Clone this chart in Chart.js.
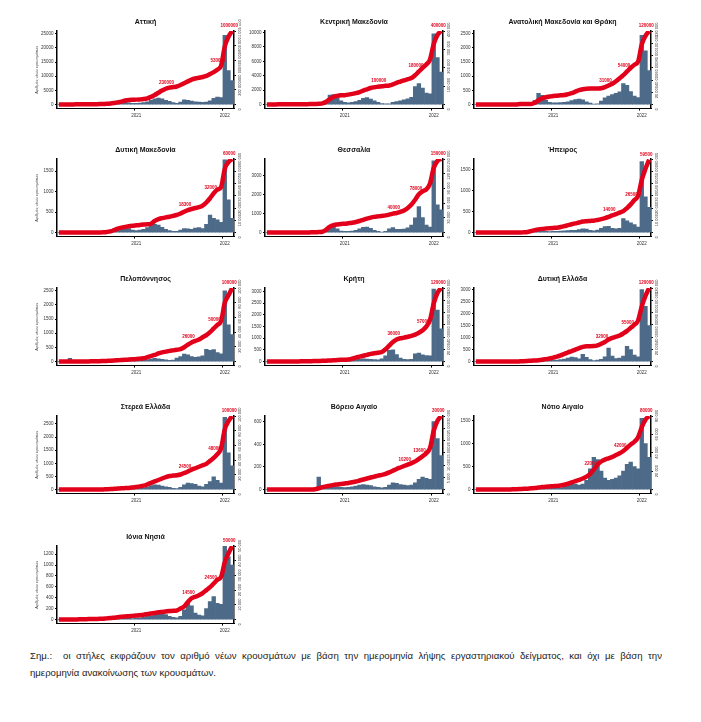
<!DOCTYPE html>
<html lang="el">
<head>
<meta charset="utf-8">
<title>Νέα κρούσματα ανά περιφέρεια</title>
<script src="https://cdn.jsdelivr.net/npm/chart.js@4.4.1/dist/chart.umd.min.js"></script>
<style>
  html, body { margin: 0; padding: 0; background: #fff; }
  body { width: 701px; height: 722px; position: relative; overflow: hidden; font-family: 'Liberation Sans', Arial, sans-serif; }
  .panel { position: absolute; height: 118px; }
  .note { position: absolute; left: 30px; font-size: 9.6px; color: #222; white-space: nowrap; }
</style>
</head>
<body>
<div id="panels"></div>
<div class="note" style="top:650px; width:632px; text-align:justify; text-align-last:justify;">Σημ.:&nbsp; οι στήλες εκφράζουν τον αριθμό νέων κρουσμάτων με βάση την ημερομηνία λήψης εργαστηριακού δείγματος, και όχι με βάση την</div>
<div class="note" style="top:667px;">ημερομηνία ανακοίνωσης των κρουσμάτων.</div>
<script>
// half-month periods, Feb 2020 - Feb 2022
const periods = [
  '2020-02-16', '2020-03-01', '2020-03-16', '2020-04-01', '2020-04-16', '2020-05-01', '2020-05-16',
  '2020-06-01', '2020-06-16', '2020-07-01', '2020-07-16', '2020-08-01', '2020-08-16', '2020-09-01',
  '2020-09-16', '2020-10-01', '2020-10-16', '2020-11-01', '2020-11-16', '2020-12-01', '2020-12-16',
  '2021-01-01', '2021-01-16', '2021-02-01', '2021-02-16', '2021-03-01', '2021-03-16', '2021-04-01',
  '2021-04-16', '2021-05-01', '2021-05-16', '2021-06-01', '2021-06-16', '2021-07-01', '2021-07-16',
  '2021-08-01', '2021-08-16', '2021-09-01', '2021-09-16', '2021-10-01', '2021-10-16', '2021-11-01',
  '2021-11-16', '2021-12-01', '2021-12-16', '2022-01-01', '2022-01-16', '2022-02-01'
];
const yearTickIndex = [21, 45];
const yearTickText = ['2021', '2022'];

const regions = [
  'Αττική', 'Κεντρική Μακεδονία', 'Ανατολική Μακεδονία και Θράκη',
  'Δυτική Μακεδονία', 'Θεσσαλία', 'Ήπειρος',
  'Πελοπόννησος', 'Κρήτη', 'Δυτική Ελλάδα',
  'Στερεά Ελλάδα', 'Βόρειο Αιγαίο', 'Νότιο Αιγαίο',
  'Ιόνια Νησιά'
];

// daily new cases (bars)
const dailyAttiki = [0,5,40,30,10, 5,5,10,20,60, 120,150,150,200,400, 700,1200,1500,1000,600, 400,400,500,700,1000, 1500,2000,2300,2000,1500, 1100,700,400,900,1700, 1500,1200,1000,900,800, 900,1300,2200,2600,2500, 24500,12000,8500];
const dailyKMakedonia = [0,0,20,40,20, 5,5,5,5,10, 20,40,60,60,100, 200,300,1300,1400,900, 500,300,250,300,400, 600,850,950,750,500, 300,150,100,100,300, 400,500,650,800,1000, 2500,2900,2300,1600,1500, 9800,6500,4500];
const dailyAMThraki = [0,0,5,10,10, 5,5,5,5,10, 10,15,20,30,40, 60,150,400,330,150, 80,60,60,70,80, 100,140,180,190,170, 100,50,20,30,120, 240,300,350,400,450, 740,680,460,300,250, 2450,1900,1200];
const dailyDMakedonia = [0,0,5,5,2, 2,2,2,5,10, 15,20,30,40,60, 90,130,150,140,100, 60,50,60,80,120, 170,200,180,130,80, 50,30,30,60,100, 90,80,110,120,100, 200,430,350,310,250, 1780,800,350];
const dailyThessalia = [0,0,5,5,5, 2,2,2,2,5, 10,15,20,30,40, 60,120,380,400,200, 80,60,60,80,120, 200,280,290,220,120, 60,30,60,200,260, 170,170,180,250,400, 780,1380,800,400,290, 3800,1470,1200];
const dailyIpeiros = [0,0,2,2,2, 1,1,1,1,2, 3,5,8,10,15, 20,40,60,50,30, 25,30,30,35,40, 45,50,55,70,90, 80,50,40,60,100, 140,150,100,90,100, 330,280,230,190,130, 1690,850,600];
const dailyPeloponnisos = [0,0,10,115,5, 2,2,2,2,5, 10,15,20,30,40, 50,70,90,80,60, 50,40,40,50,70, 90,110,100,80,60, 40,50,120,180,260, 240,180,150,170,200, 430,400,420,320,270, 2500,1300,950];
const dailyKriti = [0,0,2,2,2, 1,1,1,2,5, 10,15,20,25,30, 40,50,60,70,70, 60,50,50,60,80, 100,120,110,100,80, 70,120,250,480,500, 300,150,100,80,100, 330,360,290,260,250, 3100,2200,1400];
const dailyDEllada = [0,0,2,2,2, 1,1,1,2,3, 5,10,15,20,30, 40,60,80,90,80, 60,50,60,80,100, 150,190,170,110,300, 180,80,40,60,90, 200,560,230,120,150, 230,640,500,270,200, 3000,2300,1500];
const dailySterea = [0,0,2,2,2, 1,1,1,2,3, 5,8,10,15,20, 30,40,50,60,50, 40,40,50,70,100, 150,180,170,130,100, 80,50,40,80,180, 250,230,200,130,100, 200,300,480,350,250, 2750,1400,900];
const dailyVAigaio = [0,0,1,1,1, 0,0,0,2,5, 6,8,8,10,110, 15,20,25,30,25, 20,18,20,25,30, 40,45,40,35,25, 20,15,20,40,60, 55,45,40,35,40, 60,90,110,100,90, 600,450,300];
const dailyNAigaio = [0,0,1,1,1, 0,0,0,1,3, 8,15,20,20,25, 30,40,50,45,35, 25,25,30,40,60, 100,130,120,100,120, 200,450,700,650,400, 250,200,220,250,300, 400,550,600,500,450, 1550,1000,700];
const dailyIonia = [0,0,1,1,1, 0,0,0,1,2, 5,8,10,12,15, 20,25,30,30,25, 20,25,30,40,60, 70,80,100,120,90, 60,40,30,60,180, 300,250,120,80,70, 200,330,420,300,280, 1350,1150,1000];

// cumulative cases, thousands (red line)
const totalAttiki = [0,0,1,2,2, 3,3,3,4,4, 5,6,8,10,15, 22,30,40,55,62, 65,67,70,75,85, 105,130,160,190,215, 230,238,245,265,290, 315,340,355,365,375, 390,415,440,475,530, 790,920,1000];
const totalKMakedonia = [0,0,0,1,1, 1,1,1,1,1, 2,2,3,3,4, 6,15,30,42,47, 50,51,54,58,62, 68,76,83,90,94, 97,100,102,104,110, 118,125,132,138,144, 160,180,200,218,245, 330,378,400];
const totalAMThraki = [0,0,0,0,0, 0,0,0,0,0, 0,0,1,1,1, 1,3,7,10,12, 13,14,14.5,15,15.5, 17,18.5,21,23.5,25, 25.8,26,26,26.2,26.5, 28.5,31,34,38,43, 48,54,60,65,70, 98,112,120];
const totalDMakedonia = [0,0,0,0,0, 0,0,0,0,0, 0,0,0.2,0.5,1, 2,3.2,4,4.6,5.2, 5.6,5.9,6.2,6.5,6.7, 7.2,9.5,11,11.8,12.4, 12.9,13.6,14.4,15.5,17, 18.3,19.2,20,20.7,22, 24.5,28,32,35,37, 52,57.5,60];
const totalThessalia = [0,0,0,0,0, 0,0,0,0,0, 0,0,0.5,0.5,1, 1.5,6,12,15,16.5, 17.5,18,19,20,21.5, 23.5,26,28.5,30.5,32, 33,34,35,36.5,38.5, 40,42,45,50,57, 67,78,84,88,100, 132,146,150];
const totalIpeiros = [0,0,0,0,0, 0,0,0,0,0, 0,0,0,0.2,0.5, 1.2,2,2.6,3,3.3, 3.6,3.8,3.9,4.5,5.2, 6,6.8,7.5,8.2,9, 9.3,9.5,9.7,10.3,11, 11.8,12.8,14,15,16.3, 17.5,20,23,26.5,30, 43,52,59.5];
const totalPeloponnisos = [0,0,0,0,0, 0,0,0,0.2,0.3, 0.4,0.5,0.7,0.9,1.1, 1.4,1.8,2.2,2.5,2.7, 3,3.4,4,4.5,6, 7.5,9,11,12.5,13.5, 14.5,15.2,16,17,19.5, 23,26,28,30,33, 36,40,45,50,55, 80,90,100];
const totalKriti = [0,0,0,0,0, 0,0,0,0.2,0.3, 0.4,0.5,0.6,0.8,1, 1.2,1.5,1.8,2.1,2.5, 2.8,3,3.3,4.5,6.5, 8,9.5,11,12.5,13.5, 14.5,15.5,20,26,32, 36,38,39,40.5,42, 44,47,51,57,68, 95,112,120];
const totalDEllada = [0,0,0,0,0, 0,0,0,0,0, 0,0,0.3,0.6,1, 1.4,1.8,2.2,3,4, 5,6.5,8,10,12.5, 15,17,19.5,22,24, 25,25,25.2,26.5,29, 32,36,38.5,40.5,42.5, 46,50,55,60,67, 90,107,120];
const totalSterea = [0,0,0,0,0, 0,0,0,0,0, 0,0,0.2,0.4,0.6, 1,1.4,1.8,2,2.2, 2.8,3.5,4.3,5.3,7, 9,11,13,15,17, 18.4,19,19.5,20.5,22.5, 24.5,27,29,31,33, 35,39,43,48,56, 82,93,100];
const totalVAigaio = [0,0,0,0,0, 0,0,0,0,0, 0,0,0,0.1,0.5, 1,1.3,1.6,1.9,2.1, 2.3,2.5,2.7,3,3.3, 3.7,4.1,4.5,4.9,5.3, 5.7,6,6.4,7,7.7, 8.4,9,9.6,10.2,10.8, 11.5,12.5,13.6,14.8,17, 24,28,30];
const totalNAigaio = [0,0,0,0,0, 0,0,0,0,0.1, 0.2,0.4,0.6,0.8,1, 1.3,1.7,2.2,2.7,3.1, 3.4,3.7,4,4.5,5.2, 6.3,7.8,9.2,10.5,12, 14,17,22,27,30.5, 32.5,34,35.5,37.5,39.5, 42,45.5,49,52,57, 68,76,80];
const totalIonia = [0,0,0,0,0.1, 0.1,0.2,0.2,0.3,0.3, 0.4,0.5,0.6,0.8,1, 1.3,1.6,1.9,2.1,2.3, 2.5,2.7,3,3.3,3.7, 4.1,4.5,4.9,5.2,5.5, 5.8,6,6.2,7.5,9, 12,14.5,15.5,16.5,18, 20,22,24.5,27,29, 39,45,50];

const dailyCases = [dailyAttiki, dailyKMakedonia, dailyAMThraki, dailyDMakedonia, dailyThessalia, dailyIpeiros,
  dailyPeloponnisos, dailyKriti, dailyDEllada, dailySterea, dailyVAigaio, dailyNAigaio, dailyIonia];
const totalCases = [totalAttiki, totalKMakedonia, totalAMThraki, totalDMakedonia, totalThessalia, totalIpeiros,
  totalPeloponnisos, totalKriti, totalDEllada, totalSterea, totalVAigaio, totalNAigaio, totalIonia];

// axis ranges
const leftMax = [26000, 10200, 2600, 1800, 3900, 1750, 2600, 3150, 3070, 2800, 650, 1600, 1350];
const leftStep = [5000, 2000, 500, 500, 1000, 500, 500, 500, 500, 500, 200, 500, 200];
const rightMax = [1000, 400, 120, 60, 150, 60, 100, 120, 120, 100, 30, 80, 50];
const rightStep = [200, 100, 20, 10, 30, 10, 20, 20, 20, 20, 5, 20, 10];
// points of the red line that carry a value label
const labelPoints = [[30, 44, 47], [31, 41, 47], [36, 41, 47], [35, 42, 47], [35, 41, 47], [37, 43, 47],
  [36, 43, 47], [35, 43, 47], [35, 42, 47], [35, 43, 47], [38, 42, 47], [32, 40, 47], [36, 42, 47]];

const RED = '#e2001a';
const BLUE = '#4d6b89';
const FONT = "'Liberation Sans', Arial, sans-serif";
const rowTop = [10, 138, 267, 395, 525];
const colLeft = [30, 245, 454];
const colWidth = [218, 212, 211];
const leftWidth = [27, 20, 20];

function tickList(max, step) {
  const out = [];
  for (let v = 0; v <= max + 1e-9; v += step) out.push({ value: v });
  return out;
}

function fmtThousands(v) {
  return String(Math.round(v * 1000)).replace(/\B(?=(\d{3})+(?!\d))/g, ' ');
}

function lineLabels(points) {
  return {
    id: 'lineLabels',
    afterDatasetsDraw(chart) {
      const meta = chart.getDatasetMeta(0);
      const values = chart.data.datasets[0].data;
      const ctx = chart.ctx;
      ctx.save();
      ctx.font = `bold 4.5px ${FONT}`;
      ctx.textAlign = 'center';
      ctx.textBaseline = 'bottom';
      points.forEach((i, n) => {
        const p = meta.data[i];
        const text = String(Math.round(values[i] * 1000));
        const x = p.x - 3, y = p.y - 3;
        if (n === points.length - 1) {
          const w = ctx.measureText(text).width + 2;
          ctx.fillStyle = '#fff';
          ctx.fillRect(x - w / 2, y - 5.5, w, 5.5);
        }
        ctx.fillStyle = RED;
        ctx.fillText(text, x, y);
      });
      ctx.restore();
    }
  };
}

const holder = document.getElementById('panels');
regions.forEach((name, k) => {
  const col = k % 3, row = Math.floor(k / 3);
  const div = document.createElement('div');
  div.className = 'panel';
  div.style.left = colLeft[col] + 'px';
  div.style.top = rowTop[row] + 'px';
  div.style.width = colWidth[col] + 'px';
  const canvas = document.createElement('canvas');
  div.appendChild(canvas);
  holder.appendChild(div);

  new Chart(canvas, {
    type: 'bar',
    data: {
      labels: periods,
      datasets: [
        {
          type: 'line',
          data: totalCases[k],
          yAxisID: 'y2',
          borderColor: RED,
          borderWidth: 4.5,
          pointRadius: 0,
          cubicInterpolationMode: 'monotone',
          order: 0
        },
        {
          type: 'bar',
          data: dailyCases[k],
          yAxisID: 'y',
          backgroundColor: BLUE,
          barPercentage: 1,
          categoryPercentage: 1,
          order: 1
        }
      ]
    },
    options: {
      responsive: true,
      maintainAspectRatio: false,
      animation: false,
      layout: { padding: { top: 0, right: 0, bottom: 8, left: 0 } },
      plugins: {
        legend: { display: false },
        tooltip: { enabled: false },
        title: {
          display: true,
          text: name,
          fullSize: false,
          color: '#111',
          font: { family: FONT, size: 7, weight: 'bold' },
          padding: { top: 8, bottom: 4.6 }
        }
      },
      scales: {
        x: {
          border: { color: '#000', width: 1 },
          grid: {
            drawOnChartArea: false,
            tickLength: 2,
            color: c => yearTickIndex.includes(c.index) ? '#000' : 'rgba(0,0,0,0)'
          },
          ticks: {
            autoSkip: false,
            maxRotation: 0,
            padding: 2,
            color: '#333',
            font: { family: FONT, size: 4.5 },
            callback: (v, i) => {
              const j = yearTickIndex.indexOf(i);
              return j >= 0 ? yearTickText[j] : '';
            }
          }
        },
        y: {
          position: 'left',
          min: -0.055 * leftMax[k],
          max: leftMax[k],
          border: { color: '#000', width: 1.5 },
          grid: { drawOnChartArea: false, tickLength: 2, color: '#000' },
          ticks: {
            padding: 1.5,
            color: '#333',
            font: { family: FONT, size: 4.5 },
            callback: v => String(v)
          },
          afterBuildTicks: s => { s.ticks = tickList(leftMax[k], leftStep[k]); },
          title: {
            display: col === 0,
            text: 'Αριθμός νέων κρουσμάτων',
            color: '#444',
            font: { family: FONT, size: 4 },
            padding: { top: 4, bottom: 0 }
          },
          afterFit: s => { s.width = leftWidth[col]; }
        },
        y2: {
          position: 'right',
          min: -0.055 * rightMax[k],
          max: rightMax[k],
          border: { color: '#000', width: 1.5 },
          grid: { drawOnChartArea: false, tickLength: 2, color: '#000' },
          ticks: {
            autoSkip: false,
            minRotation: 90,
            maxRotation: 90,
            padding: 4,
            labelOffset: 6,
            color: '#333',
            font: { family: FONT, size: 4 },
            callback: v => fmtThousands(v)
          },
          afterBuildTicks: s => { s.ticks = tickList(rightMax[k], rightStep[k]); },
          afterFit: s => { s.width = 14; }
        }
      }
    },
    plugins: [lineLabels(labelPoints[k])]
  });
});
</script>
</body>
</html>
